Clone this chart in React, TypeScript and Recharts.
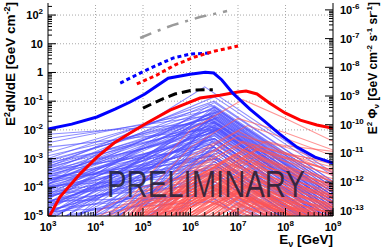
import React from "react";
import { LineChart, Line, XAxis, YAxis, ReferenceLine } from "recharts";

const W = 382;
const H = 248;
const FONT = "'Liberation Sans', Arial, Helvetica, sans-serif";

// decades labelled on each axis
const X_EXP = [3, 4, 5, 6, 7, 8, 9];
const LEFT_EXP = [-5, -4, -3, -2, -1, 0, 1, 2];
const RIGHT_EXP = [-13, -12, -11, -10, -9, -8, -7, -6];

const X_DOMAIN = [1e3, 1e9];
const LEFT_DOMAIN = [1e-5, 10 ** 2.42];
const RIGHT_DOMAIN = [10 ** -13.18, 10 ** -5.76];

// thick curves, [log10 E, log10 E^2 dN/dE]
const BLUE_MODEL = [
  [3.0, -1.97], [3.5, -1.8], [4.03, -1.55], [4.41, -1.28], [4.73, -1.03], [5.04, -0.75],
  [5.53, -0.2], [5.99, -0.06], [6.31, 0.01], [6.49, -0.02], [6.66, -0.26], [6.89, -0.72],
  [7.25, -1.28], [7.53, -1.66], [7.88, -2.15], [8.24, -2.6], [8.62, -2.95], [9.0, -3.16],
];
const RED_MODEL = [
  [3.0, -5.1], [3.25, -4.34], [3.67, -3.54], [4.03, -2.95], [4.39, -2.46], [4.73, -2.11],
  [5.08, -1.76], [5.57, -1.31], [5.88, -1.1], [6.2, -0.89], [6.62, -0.79], [7.0, -0.68],
  [7.17, -0.65], [7.4, -0.75], [7.67, -1.07], [7.99, -1.41], [8.31, -1.66], [8.66, -1.83], [9.0, -1.94],
];
const BLACK_DASHED = [[5.0, -1.24], [5.36, -0.96], [5.67, -0.75], [6.05, -0.61], [6.47, -0.6]];
const BLUE_DOTTED = [[4.52, -0.37], [4.94, -0.02], [5.25, 0.22], [5.63, 0.5], [5.99, 0.64], [6.45, 0.68]];
const RED_DOTTED = [[4.87, -0.4], [5.29, -0.09], [5.67, 0.26], [6.09, 0.54], [6.52, 0.75], [7.0, 0.92]];
const GREY_DASHDOT = [[4.94, 1.2], [5.29, 1.44], [5.63, 1.65], [6.2, 1.93], [6.77, 2.14]];

// thin blue spectra: [peak log E, log value at 1e3, log value at peak, log value at 1e9]
const BLUE_THIN = [
  [6.5, -2.15, -1.75, -4.7], [6.4, -2.3, -1.5, -4.3], [6.5, -2.45, -1.3, -4.1], [6.6, -2.6, -1.95, -4.9],
  [6.5, -2.8, -1.15, -3.9], [6.3, -3.9, -0.5, -3.5], [6.5, -3.3, -0.85, -3.6], [6.5, -3.0, -1.0, -3.8],
  [6.4, -2.9, -1.6, -4.4], [6.5, -3.1, -1.4, -4.2], [6.5, -3.2, -1.25, -4.0], [6.6, -3.3, -1.8, -4.6],
  [6.5, -3.35, -1.5, -4.3], [6.4, -3.45, -1.1, -3.9], [6.5, -3.5, -2.0, -4.9], [6.5, -3.6, -1.65, -4.5],
  [6.6, -3.65, -1.35, -4.1], [6.5, -3.75, -2.2, -5.1], [6.4, -3.8, -1.85, -4.7], [6.5, -3.9, -1.2, -4.0],
  [6.5, -3.95, -2.4, -5.3], [6.6, -4.05, -1.55, -4.4], [6.5, -4.1, -2.05, -4.9], [6.5, -4.2, -2.6, -5.4],
  [6.4, -4.25, -1.45, -4.3], [6.5, -4.35, -2.3, -5.2], [6.5, -4.4, -1.75, -4.6], [6.6, -4.5, -2.8, -5.6],
  [6.5, -4.55, -1.05, -3.8], [6.5, -4.65, -2.15, -5.0], [6.4, -4.7, -2.5, -5.4], [6.5, -4.8, -1.6, -4.5],
  [6.5, -4.85, -3.0, -5.8], [6.6, -4.95, -1.95, -4.8], [6.5, -5.0, -2.7, -5.5], [6.5, -5.2, -1.3, -4.2],
  [6.4, -5.35, -2.25, -5.1], [6.5, -5.5, -3.2, -6.0], [6.5, -5.7, -1.85, -4.7], [6.6, -5.9, -2.6, -5.4],
  [6.5, -6.1, -3.4, -6.1], [6.5, -6.3, -1.5, -4.4], [6.4, -6.6, -2.9, -5.7], [6.5, -6.9, -2.1, -5.0],
  [6.5, -7.2, -3.6, -6.3], [6.6, -7.6, -2.4, -5.3], [6.5, -8.0, -3.1, -5.9], [6.5, -8.5, -1.9, -4.8],
  [6.4, -9.0, -3.8, -6.4], [6.5, -4.3, -3.3, -6.0], [6.5, -4.6, -3.5, -6.2], [6.6, -4.9, -3.7, -6.5],
  [6.5, -3.7, -2.9, -5.8], [6.5, -4.0, -3.1, -5.9], [6.4, -4.45, -3.9, -6.6], [6.5, -5.1, -4.0, -6.8],
  [6.5, -4.75, -4.2, -7.0],
  [6.5, -3.05, -1.55, -4.5], [6.5, -3.15, -1.9, -4.8], [6.4, -3.25, -1.7, -4.6], [6.5, -3.4, -2.1, -5.0],
  [6.6, -3.5, -1.45, -4.3], [6.5, -3.55, -2.3, -5.2], [6.5, -3.65, -1.9, -4.8], [6.4, -3.7, -2.5, -5.4],
  [6.5, -3.8, -1.6, -4.5], [6.5, -3.85, -2.7, -5.6], [6.6, -3.9, -2.0, -4.9], [6.5, -4.0, -2.9, -5.7],
  [6.5, -4.1, -1.7, -4.6], [6.4, -4.15, -2.35, -5.2], [6.5, -4.2, -3.2, -6.0], [6.5, -4.3, -1.95, -4.8],
  [6.6, -4.35, -2.7, -5.5], [6.5, -4.4, -1.35, -4.2], [6.5, -4.5, -3.0, -5.8], [6.4, -4.55, -2.0, -4.9],
  [6.5, -4.6, -2.45, -5.3], [6.5, -4.7, -1.85, -4.7], [6.6, -4.8, -3.3, -6.0], [6.5, -4.9, -2.3, -5.2],
  [6.5, -4.95, -1.45, -4.3], [6.4, -5.05, -2.85, -5.7], [6.5, -5.15, -2.0, -4.9], [6.5, -5.25, -3.5, -6.2],
  [6.5, -5.4, -1.7, -4.6], [6.6, -5.55, -2.45, -5.3], [6.5, -5.8, -1.2, -4.0], [6.5, -6.0, -2.2, -5.1],
  [6.4, -6.2, -3.0, -5.8], [6.5, -6.5, -1.75, -4.6], [6.5, -6.8, -2.6, -5.4], [6.5, -7.0, -1.4, -4.3],
  [6.6, -7.4, -3.3, -6.0], [6.5, -7.8, -2.0, -4.9], [6.5, -8.2, -2.8, -5.6], [6.4, -8.8, -1.65, -4.5],
  [6.5, -9.5, -2.3, -5.2], [6.5, -10, -3.5, -6.2], [6.5, -3.4, -2.6, -5.5], [6.5, -3.6, -3.4, -6.2],
  [6.6, -3.75, -3.0, -5.9], [6.5, -3.95, -3.6, -6.4], [6.5, -4.25, -3.8, -6.6], [6.4, -4.5, -4.3, -7.0],
  [6.5, -4.85, -4.5, -7.2], [6.5, -5.3, -4.1, -6.8], [6.5, -5.6, -3.8, -6.5], [6.5, -6.0, -4.4, -7.0],
];

// thin red spectra: [log value at 1e4, 1e5, 1e6, peak log E, log value at peak, at 1e8, at 1e9]
const RED_THIN = [
  [-6.5, -3.8, -2.0, 7.1, -0.95, -1.6, -2.4], [-7.0, -4.3, -2.6, 7.0, -1.6, -2.1, -2.7],
  [-7.3, -4.6, -2.9, 7.2, -1.85, -2.3, -2.9], [-7.0, -4.5, -3.0, 7.0, -2.05, -2.8, -3.5],
  [-7.5, -4.9, -3.3, 6.9, -2.3, -3.1, -3.8], [-7.8, -5.0, -3.4, 7.1, -2.45, -2.95, -3.4],
  [-7.4, -5.1, -3.6, 7.0, -2.6, -3.4, -4.1], [-8.0, -5.3, -3.7, 7.2, -2.75, -3.25, -3.8],
  [-7.6, -5.2, -3.8, 6.9, -2.85, -3.7, -4.5], [-8.2, -5.5, -3.9, 7.0, -2.95, -3.5, -4.0],
  [-8.0, -5.5, -4.0, 7.1, -3.1, -3.9, -4.7], [-8.4, -5.7, -4.2, 7.0, -3.25, -3.8, -4.3],
  [-8.3, -5.8, -4.3, 6.9, -3.35, -4.2, -5.0], [-8.6, -6.0, -4.4, 7.2, -3.45, -4.0, -4.5],
  [-8.5, -6.0, -4.6, 7.0, -3.6, -4.4, -5.1], [-8.8, -6.2, -4.7, 7.1, -3.7, -4.2, -4.7],
  [-8.7, -6.2, -4.8, 6.9, -3.8, -4.6, -5.3], [-9.0, -6.4, -4.9, 7.0, -3.9, -4.45, -4.95],
  [-9.0, -6.5, -5.0, 7.2, -4.0, -4.7, -5.3], [-9.2, -6.6, -5.1, 7.0, -4.1, -4.85, -5.45],
  [-9.3, -6.7, -5.2, 7.1, -4.25, -4.95, -5.55], [-9.5, -6.9, -5.4, 6.9, -4.4, -5.15, -5.75],
  [-9.6, -7.0, -5.5, 7.0, -4.55, -5.25, -5.85], [-9.8, -7.2, -5.7, 7.2, -4.7, -5.35, -5.95],
  [-6.0, -4.2, -3.5, 6.5, -3.2, -4.3, -5.2], [-6.5, -4.6, -3.8, 6.6, -3.4, -4.4, -5.3],
  [-6.8, -4.9, -4.1, 6.5, -3.7, -4.8, -5.6], [-7.0, -5.0, -4.3, 6.6, -3.9, -4.9, -5.7],
  [-7.2, -5.2, -4.5, 6.5, -4.1, -5.1, -5.9], [-6.4, -4.7, -4.2, 6.4, -4.0, -5.0, -5.8],
  [-6.6, -4.8, -4.4, 6.5, -4.3, -5.2, -6.0], [-6.2, -4.5, -4.0, 6.3, -3.8, -4.9, -5.7],
  [-5.8, -4.3, -3.9, 6.4, -3.6, -4.6, -5.5], [-8.5, -6.0, -4.3, 7.4, -2.7, -3.0, -3.4],
  [-8.8, -6.3, -4.6, 7.5, -3.0, -3.3, -3.7], [-9.0, -6.6, -4.9, 7.4, -3.3, -3.6, -4.0],
  [-9.3, -6.9, -5.2, 7.5, -3.6, -3.9, -4.3], [-9.5, -7.1, -5.5, 7.4, -3.9, -4.2, -4.6],
  [-9.8, -7.4, -5.8, 7.5, -4.2, -4.5, -4.9], [-10, -7.7, -6.1, 7.4, -4.5, -4.8, -5.2],
  [-7.2, -4.8, -3.5, 6.8, -2.5, -3.3, -4.0], [-7.6, -5.0, -3.8, 7.0, -2.8, -3.6, -4.3],
  [-7.9, -5.3, -4.0, 7.1, -3.0, -3.7, -4.4], [-8.1, -5.6, -4.3, 6.9, -3.2, -4.0, -4.8],
  [-8.4, -5.9, -4.5, 7.0, -3.4, -4.1, -4.7], [-8.6, -6.1, -4.6, 7.2, -3.55, -4.2, -4.9],
  [-8.9, -6.4, -4.9, 7.0, -3.75, -4.5, -5.2], [-9.1, -6.6, -5.1, 7.1, -3.95, -4.6, -5.3],
  [-9.4, -6.8, -5.3, 6.9, -4.15, -4.9, -5.6], [-9.6, -7.0, -5.5, 7.0, -4.35, -5.1, -5.8],
  [-9.9, -7.3, -5.8, 7.2, -4.6, -5.2, -5.9], [-10.2, -7.6, -6.0, 7.1, -4.8, -5.4, -6.0],
  [-6.3, -4.4, -3.7, 6.5, -3.3, -4.5, -5.4], [-6.6, -4.7, -4.0, 6.6, -3.55, -4.6, -5.5],
  [-6.9, -5.0, -4.2, 6.5, -3.8, -4.85, -5.7], [-7.1, -5.1, -4.4, 6.7, -4.0, -4.9, -5.7],
  [-7.3, -5.3, -4.6, 6.6, -4.2, -5.1, -5.9], [-6.0, -4.6, -4.3, 6.3, -4.1, -5.2, -6.0],
  [-6.2, -4.7, -4.5, 6.4, -4.4, -5.3, -6.1], [-5.9, -4.4, -4.1, 6.5, -3.95, -4.9, -5.8],
  [-7.5, -5.2, -4.4, 6.8, -3.7, -4.4, -5.0], [-7.7, -5.4, -4.7, 6.8, -4.0, -4.6, -5.2],
  [-8.0, -5.6, -4.9, 6.9, -4.3, -4.9, -5.5], [-8.3, -6.0, -4.4, 7.3, -2.9, -3.3, -3.8],
  [-8.6, -6.2, -4.7, 7.4, -3.15, -3.5, -3.9], [-8.9, -6.5, -5.0, 7.3, -3.45, -3.8, -4.3],
  [-9.2, -6.8, -5.3, 7.4, -3.75, -4.05, -4.5], [-9.4, -7.0, -5.6, 7.5, -4.05, -4.35, -4.8],
  [-9.7, -7.3, -5.9, 7.3, -4.35, -4.7, -5.1], [-10, -7.6, -6.2, 7.5, -4.65, -4.95, -5.4],
  [-8.0, -5.5, -3.6, 7.6, -2.4, -2.55, -2.75], [-8.4, -5.8, -3.9, 7.5, -2.6, -2.85, -3.1],
  [-7.0, -4.6, -3.2, 7.0, -2.2, -2.6, -3.2], [-7.3, -4.9, -3.5, 7.1, -2.4, -2.85, -3.3],
  [-8.2, -5.6, -3.9, 7.3, -2.5, -2.8, -3.2], [-8.5, -5.9, -4.1, 7.4, -2.65, -2.95, -3.45],
  [-8.7, -6.1, -4.3, 7.5, -2.85, -3.1, -3.55], [-8.9, -6.3, -4.5, 7.3, -3.05, -3.4, -3.9],
  [-9.1, -6.5, -4.7, 7.4, -3.2, -3.5, -4.1], [-9.3, -6.7, -4.9, 7.5, -3.4, -3.7, -4.15],
  [-9.5, -6.9, -5.1, 7.3, -3.55, -3.9, -4.4], [-9.7, -7.1, -5.3, 7.4, -3.7, -4.0, -4.35],
  [-9.9, -7.3, -5.5, 7.5, -3.85, -4.15, -4.6], [-10.1, -7.5, -5.7, 7.3, -4.0, -4.35, -4.75],
  [-10.3, -7.7, -5.9, 7.4, -4.2, -4.5, -4.9], [-10.5, -7.9, -6.1, 7.5, -4.4, -4.65, -5.05],
  [-7.8, -5.4, -3.8, 7.2, -2.6, -3.0, -3.6], [-8.0, -5.6, -4.0, 7.2, -2.9, -3.35, -3.95],
  [-8.3, -5.9, -4.2, 7.1, -3.15, -3.65, -4.25], [-8.6, -6.1, -4.5, 7.2, -3.35, -3.85, -4.4],
  [-8.8, -6.3, -4.7, 7.1, -3.6, -4.1, -4.65], [-9.1, -6.6, -5.0, 7.2, -3.85, -4.35, -4.85],
  [-9.4, -6.9, -5.3, 7.1, -4.1, -4.55, -5.05], [-9.7, -7.2, -5.6, 7.2, -4.35, -4.8, -5.3],
  [-6.8, -4.7, -3.9, 6.7, -3.1, -4.0, -4.9], [-7.0, -4.9, -4.1, 6.8, -3.35, -4.2, -5.0],
  [-7.2, -5.1, -4.3, 6.7, -3.6, -4.5, -5.3], [-7.4, -5.3, -4.5, 6.8, -3.85, -4.7, -5.5],
  [-7.6, -5.5, -4.7, 6.7, -4.1, -4.9, -5.6], [-6.4, -4.9, -4.6, 6.2, -4.4, -5.4, -6.2],
  [-6.6, -5.0, -4.7, 6.4, -4.5, -5.5, -6.3], [-5.3, -4.1, -3.7, 6.3, -3.5, -4.6, -5.5],
  [-5.5, -4.3, -4.0, 6.2, -3.85, -4.9, -5.8], [-5.2, -4.5, -4.3, 6.2, -4.2, -5.2, -6.0],
  [-10.5, -8.0, -6.3, 7.6, -4.6, -4.75, -5.0], [-10.8, -8.3, -6.6, 7.7, -4.8, -4.9, -5.1],
  [-10.2, -7.8, -6.2, 7.5, -4.5, -4.7, -4.85], [-9.6, -7.2, -5.7, 7.5, -4.25, -4.45, -4.7],
  [-9.4, -7.0, -5.5, 7.6, -4.1, -4.25, -4.55], [-4.9, -4.0, -3.6, 6.2, -3.4, -4.6, -5.6],
  [-5.05, -4.35, -4.1, 6.3, -3.9, -5.0, -5.9],
];

const pts = (rows: number[][]) => rows.map(([le, lv]) => ({ x: 10 ** le, y: 10 ** lv }));

function logTicks(exps: number[], lo: number, hi: number) {
  const out: number[] = [];
  for (let e = exps[0] - 1; e <= exps[exps.length - 1]; e++) {
    for (let k = 1; k <= 9; k++) {
      const v = Number(`${k}e${e}`);
      if (v >= lo * 0.9999 && v <= hi * 1.0001) out.push(v);
    }
  }
  return out;
}

function majorExp(v: number): number | null {
  const l = Math.log10(v);
  return Math.abs(l - Math.round(l)) < 1e-6 ? Math.round(l) : null;
}

function PowText({ x, y, anchor, exp, plain }: any) {
  const common = { x, y, textAnchor: anchor, fontFamily: FONT, fontWeight: "bold", fontSize: 11, fill: "#000" };
  if (plain && (exp === 0 || exp === 1)) return <text {...common}>{exp === 0 ? "1" : "10"}</text>;
  return (
    <text {...common}>
      10<tspan dy={-5} fontSize={8}>{exp}</tspan>
    </text>
  );
}

function BottomTick({ x, y, payload }: any) {
  const e = majorExp(payload.value);
  return (
    <g>
      <line x1={x} x2={x} y1={y} y2={y - (e !== null ? 8 : 4)} stroke="#000" />
      {e !== null && <PowText x={x} y={y + 15} anchor="middle" exp={e} />}
    </g>
  );
}

function TopTick({ x, y, payload }: any) {
  const e = majorExp(payload.value);
  return <line x1={x} x2={x} y1={y} y2={y + (e !== null ? 8 : 4)} stroke="#000" />;
}

function LeftTick({ x, y, payload }: any) {
  const e = majorExp(payload.value);
  return (
    <g>
      <line x1={x} x2={x + (e !== null ? 8 : 4)} y1={y} y2={y} stroke="#000" />
      {e !== null && <PowText x={x - 5} y={y + 4} anchor="end" exp={e} plain />}
    </g>
  );
}

function RightTick({ x, y, payload }: any) {
  const e = majorExp(payload.value);
  return (
    <g>
      <line x1={x} x2={x - (e !== null ? 8 : 4)} y1={y} y2={y} stroke="#000" />
      {e !== null && <PowText x={x + 7} y={y + 4} anchor="start" exp={e} />}
    </g>
  );
}

const thick = (key: string, rows: number[][], color: string, width: number, dash?: string) => (
  <Line key={key} xAxisId="b" yAxisId="l" data={pts(rows)} dataKey="y" type="linear"
    stroke={color} strokeWidth={width} strokeDasharray={dash} dot={false} activeDot={false}
    isAnimationActive={false} legendType="none" />
);

export default function App() {
  const xTicks = logTicks(X_EXP, X_DOMAIN[0], X_DOMAIN[1]);
  const lTicks = logTicks(LEFT_EXP, LEFT_DOMAIN[0], LEFT_DOMAIN[1]);
  const rTicks = logTicks(RIGHT_EXP, RIGHT_DOMAIN[0], RIGHT_DOMAIN[1]);

  return (
    <div style={{ position: "absolute", left: 0, top: 0, width: W, height: H, background: "#fff" }}>
      <LineChart width={W} height={H} margin={{ top: 3, right: 0, bottom: 0, left: 0 }}>
        <XAxis xAxisId="b" dataKey="x" type="number" scale="log" domain={X_DOMAIN} allowDataOverflow
          ticks={xTicks} interval={0} tickSize={0} tickMargin={0} height={32}
          axisLine={{ stroke: "#000" }} tick={<BottomTick />} />
        <XAxis xAxisId="t" orientation="top" dataKey="x" type="number" scale="log" domain={X_DOMAIN} allowDataOverflow
          ticks={xTicks} interval={0} tickSize={0} tickMargin={0} height={0}
          axisLine={{ stroke: "#000" }} tick={<TopTick />} />
        <YAxis yAxisId="l" type="number" scale="log" domain={LEFT_DOMAIN} allowDataOverflow
          ticks={lTicks} interval={0} tickSize={0} tickMargin={0} width={48}
          axisLine={{ stroke: "#000" }} tick={<LeftTick />} />
        <YAxis yAxisId="r" orientation="right" type="number" scale="log" domain={RIGHT_DOMAIN} allowDataOverflow
          ticks={rTicks} interval={0} tickSize={0} tickMargin={0} width={49}
          axisLine={{ stroke: "#000" }} tick={<RightTick />} />

        {X_EXP.slice(1, -1).map((e) => (
          <ReferenceLine key={"gx" + e} xAxisId="b" yAxisId="l" x={10 ** e} stroke="#a8a8a8" strokeDasharray="1 2" />
        ))}
        {LEFT_EXP.slice(1).map((e) => (
          <ReferenceLine key={"gy" + e} xAxisId="b" yAxisId="l" y={10 ** e} stroke="#a8a8a8" strokeDasharray="1 2" />
        ))}

        {BLUE_THIN.map(([pe, a, p, b], i) => (
          <Line key={"bt" + i} xAxisId="b" yAxisId="l" data={pts([[3, a], [pe, p], [9, b]])} dataKey="y"
            type="linear" stroke="#5050ff" strokeOpacity={0.65} strokeWidth={1.1} dot={false} activeDot={false}
            isAnimationActive={false} legendType="none" />
        ))}
        {RED_THIN.map(([v4, v5, v6, pe, p, v8, v9], i) => (
          <Line key={"rt" + i} xAxisId="b" yAxisId="l"
            data={pts([[4, v4], [5, v5], [6, v6], [pe, p], [8, v8], [9, v9]])} dataKey="y"
            type="linear" stroke="#ff5555" strokeOpacity={0.62} strokeWidth={1.1} dot={false} activeDot={false}
            isAnimationActive={false} legendType="none" />
        ))}

        {thick("grey", GREY_DASHDOT, "#9a9a9a", 2.5, "12 7 3 7")}
        {thick("bdot", BLUE_DOTTED, "#0000ff", 3, "4 3")}
        {thick("rdot", RED_DOTTED, "#ff0000", 3, "4 3")}
        {thick("black", BLACK_DASHED, "#000000", 3, "9 5")}
        {thick("red", RED_MODEL, "#ff0000", 3)}
        {thick("blue", BLUE_MODEL, "#0000ff", 3)}
      </LineChart>

      <svg width={W} height={H} style={{ position: "absolute", left: 0, top: 0, pointerEvents: "none" }}>
        <text x={107} y={197} fontFamily={FONT} fontSize={36} textLength={198} lengthAdjust="spacingAndGlyphs"
          fill="#1c1c30" fillOpacity={0.85}>PRELIMINARY</text>
        <text transform="translate(15,2) rotate(-90)" textAnchor="end" fontFamily={FONT} fontWeight="bold" fontSize={13.5}>
          E<tspan dy={-5} fontSize={9}>2</tspan><tspan dy={5}>dN/dE [GeV cm</tspan><tspan dy={-5} fontSize={9}>-2</tspan><tspan dy={5}>]</tspan>
        </text>
        <text transform="translate(377,2) rotate(-90)" textAnchor="end" fontFamily={FONT} fontWeight="bold" fontSize={12}>
          E<tspan dy={-5} fontSize={8}>2</tspan><tspan dy={5}> Φ</tspan><tspan dy={2} fontSize={8}>ν</tspan>
          <tspan dy={-2}> [GeV cm</tspan><tspan dy={-5} fontSize={8}>-2</tspan><tspan dy={5}> s</tspan>
          <tspan dy={-5} fontSize={8}>-1</tspan><tspan dy={5}> sr</tspan><tspan dy={-5} fontSize={8}>-1</tspan>
          <tspan dy={5}>]</tspan>
        </text>
        <text x={333} y={244} textAnchor="end" fontFamily={FONT} fontWeight="bold" fontSize={13.5}>
          E<tspan dy={3} fontSize={9}>ν</tspan><tspan dy={-3}> [GeV]</tspan>
        </text>
      </svg>
    </div>
  );
}
